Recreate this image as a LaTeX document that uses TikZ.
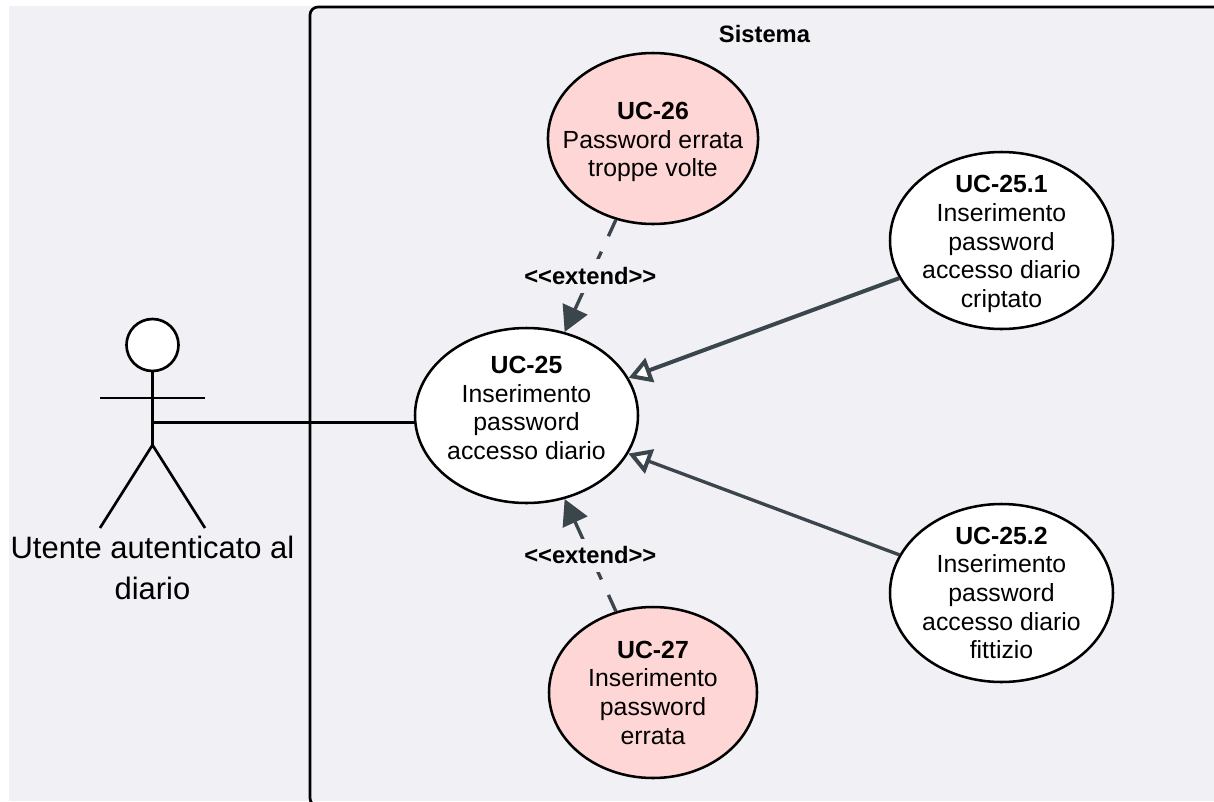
\documentclass[tikz,border=0pt]{standalone}
\usepackage{fontspec}
\setmainfont{Liberation Sans}
\usetikzlibrary{arrows.meta,shapes.geometric}
\definecolor{bgc}{HTML}{F0F0F5}
\definecolor{pinkc}{HTML}{FFD6D6}
\definecolor{linkc}{HTML}{3B454C}
\newcommand{\pushdown}{\rule{0pt}{18.2pt}}
\newcommand{\pushup}{\rule[-11.4pt]{0pt}{11.4pt}}
\tikzset{
  ucase/.style n args={3}{ellipse,draw=black,line width=1.9pt,fill=#3,inner sep=-12pt,
    minimum width=#1*0.75pt,minimum height=#2*0.75pt,align=center,text=black,
    font=\fontsize{18.6}{21.5}\selectfont},
  stick/.style={draw=black,line width=2pt},
  extlink/.style={draw=linkc,line width=2.5pt,
    dash pattern=on 13.5pt off 12.75pt on 13.5pt off 13.5pt on 40pt off 0pt,
    -{Triangle[length=19pt,width=20pt,fill=linkc]}},
  genlink/.style={draw=linkc,-{Triangle[open,length=17pt,width=19pt,line width=3pt,fill=white]}},
  extlabel/.style={fill=bgc,inner xsep=1pt,inner ysep=0pt,minimum height=25pt,text=black,
    font=\bfseries\fontsize{17.8}{21}\selectfont},
}
\begin{document}
\begin{tikzpicture}[x=0.75pt,y=-0.75pt]
\useasboundingbox (0,0) rectangle (1214,801);
\clip (0,0) rectangle (1214,801);
\fill[white] (0,0) rectangle (1214,801);
\fill[bgc] (9,6) rectangle (1214,801);
\draw[black,line width=2pt,rounded corners=6pt] (310,7) rectangle (1222,806);
\node[font=\bfseries\fontsize{17.8}{21}\selectfont] (sys) at (764.5,34) {Sistema};

\node[ucase={208}{171}{pinkc}] (uc26) at (653,138.5) {\pushdown\textbf{UC-26}\\Password errata\\troppe volte};
\node[ucase={223}{175}{white}] (uc25) at (526.5,415.5) {\textbf{UC-25}\\Inserimento\\password\\accesso diario\pushup};
\node[ucase={223}{177}{white}] (uc251) at (1001.5,240.5) {\pushdown\textbf{UC-25.1}\\Inserimento\\password\\accesso diario\\criptato};
\node[ucase={223}{178}{white}] (uc252) at (1001.5,593) {\textbf{UC-25.2}\\Inserimento\\password\\accesso diario\\fittizio};
\node[ucase={208}{171}{pinkc}] (uc27) at (653,692.5) {\textbf{UC-27}\\Inserimento\\password\\errata};

% actor
\node[circle,draw=black,fill=white,line width=2pt,minimum size=39pt,inner sep=0pt] (head) at (152.5,345) {};
\coordinate (hip) at (152.5,445);
\coordinate (hand) at (151,422.5);
\coordinate (armL) at (100,398);
\coordinate (armR) at (205,398);
\coordinate (footL) at (100,528);
\coordinate (footR) at (205,528);
\draw[stick] (head.south) -- (hip);
\draw[stick] (armL) -- (armR);
\draw[stick] (footL) -- (hip) -- (footR);
\node[align=center,font=\fontsize{23.2}{31.3}\selectfont] (actor) at (152.5,568) {Utente autenticato al\\diario};

\draw[black,line width=2.9pt] (hand) -- (uc25.west |- hand);

\draw[extlink] (uc26) -- node[extlabel,pos=0.5] (l1) {<{}<extend>{}>} (uc25);
\draw[extlink] (uc27) -- node[extlabel,pos=0.5] (l2) {<{}<extend>{}>} (uc25);
\draw[genlink,line width=3pt] (uc251) -- (uc25);
\draw[genlink,line width=2.5pt] (uc252) -- (uc25);
\end{tikzpicture}
\end{document}
